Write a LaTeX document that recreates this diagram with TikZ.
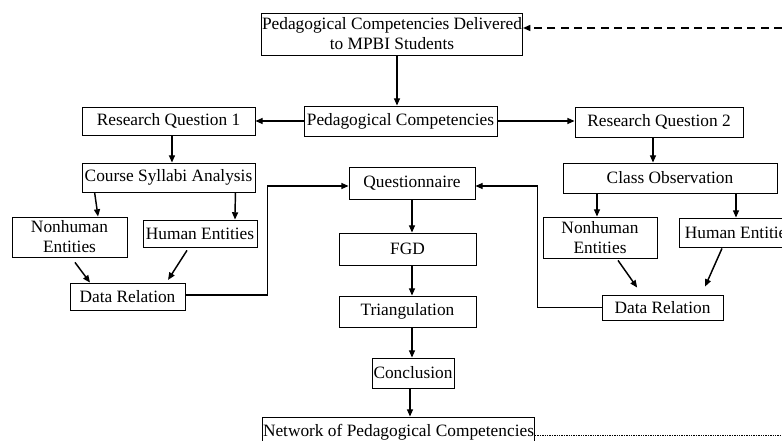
\documentclass[tikz,border=0pt]{standalone}
\usepackage{fontspec}
\setmainfont{Liberation Serif}
\usetikzlibrary{arrows.meta}
\begin{document}
\begin{tikzpicture}[x=0.75pt,y=-0.75pt,
  box/.style={draw, line width=0.6pt, inner sep=0.5pt, align=center,
    font=\fontsize{13}{15}\selectfont},
  arr/.style={line width=1.1pt, -{Triangle[length=5.5pt,width=4.5pt]}},
  link/.style={line width=1.1pt}]
\useasboundingbox (0,0) rectangle (782,441);
\clip (0,0) rectangle (782,441);

% central column
\node[box, minimum width=193.5pt, minimum height=31.5pt] (top) at (392,34)
  {Pedagogical Competencies Delivered\\to MPBI Students};
\node[box, minimum width=144.75pt, minimum height=22.5pt] (ped) at (400.5,121) {Pedagogical Competencies};
\node[box, minimum width=94.5pt, minimum height=24pt] (q) at (412,183) {Questionnaire};
\node[box, minimum width=102.75pt, minimum height=24pt] (fgd) at (407.5,249) {FGD};
\node[box, minimum width=102.75pt, minimum height=23.25pt] (tri) at (407.5,311.5) {Triangulation};
\node[box, minimum width=61.5pt, minimum height=22.5pt] (con) at (413,373) {Conclusion};
\node[box, minimum width=203.25pt, minimum height=22.5pt] (net) at (398.5,432) {Network of Pedagogical Competencies};

% left branch
\node[box, minimum width=129.75pt, minimum height=21pt] (rq1) at (168.5,121) {Research Question 1};
\node[box, minimum width=129.75pt, minimum height=21.75pt] (csa) at (168.5,177.5) {Course Syllabi Analysis};
\node[box, minimum width=86.25pt, minimum height=30pt] (nh1) at (69.5,237) {Nonhuman\\Entities};
\node[box, minimum width=85.5pt, minimum height=20.25pt] (he1) at (200,233.5) {Human Entities};
\node[box, minimum width=86.25pt, minimum height=20.25pt] (dr1) at (127.5,296.5) {Data Relation};

% right branch
\node[box, minimum width=126pt, minimum height=22.5pt] (rq2) at (659,122) {Research Question 2};
\node[box, minimum width=160.5pt, minimum height=22.5pt] (co) at (670,178) {Class Observation};
\node[box, minimum width=85.5pt, minimum height=30.75pt] (nh2) at (600,237.5) {Nonhuman\\Entities};
\node[box, minimum width=90pt, minimum height=21.75pt] (he2) at (739,232.5) {Human Entities};
\node[box, minimum width=90.75pt, minimum height=18.75pt] (dr2) at (662.5,307.5) {Data Relation};

% free ends of the feedback lines
\coordinate (dashR) at (782,28);
\coordinate (dotR) at (782,435);

% main flow
\draw[arr] ([xshift=3.75pt]top.south) -- ([xshift=3.75pt]top.south |- ped.north);
\draw[arr] (ped.west) -- (ped.west -| rq1.east);
\draw[arr] (ped.east) -- (ped.east -| rq2.west);

\draw[arr] ([xshift=2.6pt]rq1.south) -- ([xshift=2.6pt]rq1.south |- csa.north);
\draw[arr] ([xshift=9.75pt]csa.south west) -- ([xshift=21.4pt]nh1.north);
\draw[arr] ([xshift=-15pt]csa.south east) -- ([xshift=26.25pt]he1.north);
\draw[arr] ([xshift=4.1pt,yshift=-3.75pt]nh1.south) -- ([xshift=-28.1pt]dr1.north);
\draw[arr] ([xshift=-9.75pt,yshift=-2.25pt]he1.south) -- ([xshift=30.4pt,yshift=2pt]dr1.north);
\draw[arr] ([yshift=1.1pt]dr1.east) -- ++(82,0) |- ([yshift=-2.25pt]q.west);

\draw[arr] ([xshift=-4.5pt]rq2.south) -- ([xshift=-4.5pt]rq2.south |- co.north);
\draw[arr] ([xshift=-2.25pt]nh2.north |- co.south) -- ([xshift=-2.25pt]nh2.north);
\draw[arr] ([xshift=-2.25pt]he2.north |- co.south) -- ([xshift=-2.25pt]he2.north);
\draw[arr] ([xshift=13.5pt,yshift=-1.5pt]nh2.south) -- ([xshift=-19pt,yshift=5.25pt]dr2.north);
\draw[arr] ([xshift=-12.75pt,yshift=-0.75pt]he2.south) -- ([xshift=31.9pt,yshift=6pt]dr2.north);
\draw[arr] (dr2.west) -- ++(-64,0) |- ([yshift=-2.25pt]q.east);

\draw[arr] (q.south) -- (q.south |- fgd.north);
\draw[arr] (q.south |- fgd.south) -- (q.south |- tri.north);
\draw[arr] (q.south |- tri.south) -- (q.south |- con.north);
\draw[arr] ([xshift=-2.25pt]con.south) -- ([xshift=-2.25pt]con.south |- net.north);

% feedback from the network back to the competencies
\draw[line width=1.1pt, dash pattern=on 6pt off 4pt,
  -{Triangle[length=5.5pt,width=4.5pt]}] (dashR) -- (dashR -| top.east);
\draw[line width=0.4pt, dash pattern=on 1pt off 0.8pt] (dotR -| net.east) -- (dotR);
\end{tikzpicture}
\end{document}
